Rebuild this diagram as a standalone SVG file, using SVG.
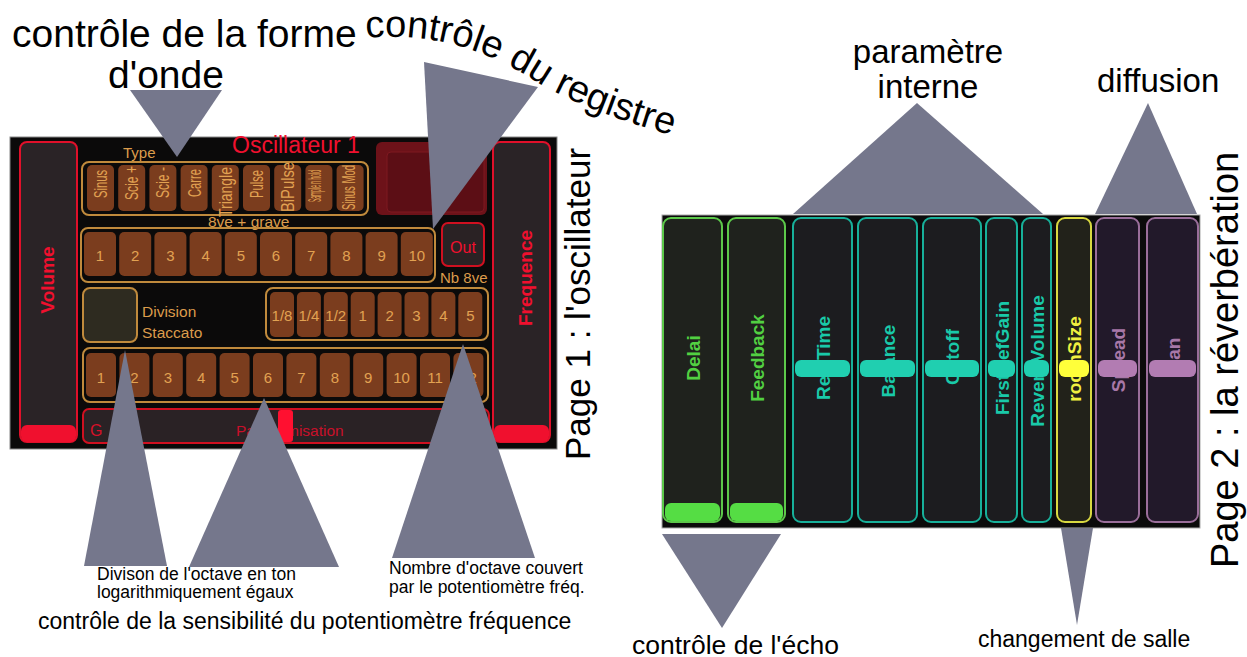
<svg xmlns="http://www.w3.org/2000/svg" width="1247" height="657" viewBox="0 0 1247 657">
<defs>
<style>
text{font-family:"Liberation Sans",Arial,sans-serif}
.blk{fill:#000}
.org{fill:#dc9c4c}
.obox{fill:none;stroke:#c08a3c;stroke-width:2}
.btn{fill:#7b3d1e}
.btxt{fill:#e2a252;font-size:15px;text-anchor:middle}
.vtxt{fill:#e2a252;font-size:19px;text-anchor:middle}
.red{fill:#f0102e}
.rs{fill:#2a2326;stroke:#e0102a;stroke-width:2}
.lab{font-size:19px;font-weight:bold;text-anchor:middle}
.call{fill:#75778c}
.g .sl{fill:#1f221d;stroke:#5cc84a;stroke-width:2}.g .kn{fill:#55dd44}.g text{fill:#52d042}
.t .sl{fill:#1c1c1f;stroke:#17b09a;stroke-width:2}.t .kn{fill:#20cfb0}.t text{fill:#19c9a9}
.y .sl{fill:#22221a;stroke:#d8d840;stroke-width:2}.y .kn{fill:#ffff3a}.y text{fill:#f0f040}
.p .sl{fill:#22192a;stroke:#9a6e9a;stroke-width:2}.p .kn{fill:#b27cb2}.p text{fill:#a878a8}
</style>
<path id="regPath" d="M 366 38 C 430 32, 485 48, 540 84 C 590 112, 640 126, 700 144" fill="none"/>
</defs>
<rect width="1247" height="657" fill="#fff"/>

<!-- Page 1 panel -->
<g id="page1">
<rect x="10" y="137" width="547" height="312" fill="#0b0a0a" stroke="#888" stroke-width="1"/>
<g id="volume">
<rect class="rs" x="20" y="142" width="57" height="300" rx="7"/>
<rect class="red" x="21" y="425" width="55" height="17" rx="6"/>
<text class="red lab" font-size="18" transform="translate(54,280) rotate(-90)">Volume</text>
</g>
<g id="frequence">
<rect class="rs" x="493" y="142" width="57" height="300" rx="7"/>
<rect class="red" x="494" y="425" width="55" height="17" rx="6"/>
<text class="red lab" transform="translate(532,278) rotate(-90)">Frequence</text>
</g>
<text id="title" class="red" x="232" y="153" font-size="23">Oscillateur 1</text>
<g id="type">
<text class="org" x="123" y="158" font-size="15">Type</text>
<rect class="obox" x="82" y="162" width="286" height="53" rx="7"/>
<rect class="btn" x="87" y="165" width="27" height="46" rx="5"/>
<rect class="btn" x="118.2" y="165" width="27" height="46" rx="5"/>
<rect class="btn" x="149.4" y="165" width="27" height="46" rx="5"/>
<rect class="btn" x="180.6" y="165" width="27" height="46" rx="5"/>
<rect class="btn" x="211.8" y="165" width="27" height="46" rx="5"/>
<rect class="btn" x="243" y="165" width="27" height="46" rx="5"/>
<rect class="btn" x="274.2" y="165" width="27" height="46" rx="5"/>
<rect class="btn" x="305.4" y="165" width="27" height="46" rx="5"/>
<rect class="btn" x="336.6" y="165" width="27" height="46" rx="5"/>
<text class="vtxt" transform="translate(107,184) rotate(-90)" textLength="28" lengthAdjust="spacingAndGlyphs">Sinus</text>
<text class="vtxt" transform="translate(138.2,183) rotate(-90)" textLength="34" lengthAdjust="spacingAndGlyphs">Scie +</text>
<text class="vtxt" transform="translate(169.4,182.5) rotate(-90)" textLength="31" lengthAdjust="spacingAndGlyphs">Scie -</text>
<text class="vtxt" transform="translate(200.6,183) rotate(-90)" textLength="28" lengthAdjust="spacingAndGlyphs">Carre</text>
<text class="vtxt" transform="translate(231.8,192) rotate(-90)" textLength="50" lengthAdjust="spacingAndGlyphs">Triangle</text>
<text class="vtxt" transform="translate(263,184) rotate(-90)" textLength="28" lengthAdjust="spacingAndGlyphs">Pulse</text>
<text class="vtxt" transform="translate(294.2,187) rotate(-90)" textLength="50" lengthAdjust="spacingAndGlyphs">BiPulse</text>
<text class="vtxt" font-size="7" transform="translate(321.4,186) rotate(-90)" textLength="32" lengthAdjust="spacingAndGlyphs">Sample n hold</text>
<text class="vtxt" font-size="13" transform="translate(354.6,187.5) rotate(-90)" textLength="45" lengthAdjust="spacingAndGlyphs">Sinus Mod</text>
</g>
<g id="display">
<rect x="376" y="142" width="111" height="73" rx="6" fill="#6d1219"/>
<rect x="387" y="152" width="97" height="60" rx="4" fill="#5c0e15" stroke="#7e1820" stroke-width="1"/>
</g>
<g id="octave">
<text class="org" x="208" y="227" font-size="15.5">8ve + grave</text>
<rect class="obox" x="81" y="228" width="354" height="54" rx="7"/>
<rect class="btn" x="84" y="232" width="32" height="44" rx="5"/>
<rect class="btn" x="119.2" y="232" width="32" height="44" rx="5"/>
<rect class="btn" x="154.4" y="232" width="32" height="44" rx="5"/>
<rect class="btn" x="189.6" y="232" width="32" height="44" rx="5"/>
<rect class="btn" x="224.8" y="232" width="32" height="44" rx="5"/>
<rect class="btn" x="260" y="232" width="32" height="44" rx="5"/>
<rect class="btn" x="295.2" y="232" width="32" height="44" rx="5"/>
<rect class="btn" x="330.4" y="232" width="32" height="44" rx="5"/>
<rect class="btn" x="365.6" y="232" width="32" height="44" rx="5"/>
<rect class="btn" x="400.8" y="232" width="32" height="44" rx="5"/>
<text class="btxt" x="100" y="261">1</text>
<text class="btxt" x="135.2" y="261">2</text>
<text class="btxt" x="170.4" y="261">3</text>
<text class="btxt" x="205.6" y="261">4</text>
<text class="btxt" x="240.8" y="261">5</text>
<text class="btxt" x="276" y="261">6</text>
<text class="btxt" x="311.2" y="261">7</text>
<text class="btxt" x="346.4" y="261">8</text>
<text class="btxt" x="381.6" y="261">9</text>
<text class="btxt" x="416.8" y="261">10</text>
</g>
<g id="out">
<rect x="442" y="223" width="42" height="43" rx="6" fill="#2a2224" stroke="#d01020" stroke-width="2"/>
<text class="red" x="463" y="253" font-size="16" text-anchor="middle">Out</text>
<text class="org" x="440" y="283" font-size="15">Nb 8ve</text>
</g>
<g id="division">
<rect x="83" y="288" width="54" height="54" rx="7" fill="#2e2b20" stroke="#c08a3c" stroke-width="2"/>
<text class="org" x="142" y="317" font-size="15.5">Division</text>
<text class="org" x="142" y="338" font-size="15.5">Staccato</text>
</g>
<g id="nboctave">
<rect class="obox" x="266" y="288" width="222" height="52" rx="7"/>
<rect class="btn" x="270" y="292" width="24" height="45" rx="5"/>
<rect class="btn" x="296.9" y="292" width="24" height="45" rx="5"/>
<rect class="btn" x="323.8" y="292" width="24" height="45" rx="5"/>
<rect class="btn" x="350.7" y="292" width="24" height="45" rx="5"/>
<rect class="btn" x="377.6" y="292" width="24" height="45" rx="5"/>
<rect class="btn" x="404.5" y="292" width="24" height="45" rx="5"/>
<rect class="btn" x="431.4" y="292" width="24" height="45" rx="5"/>
<rect class="btn" x="458.3" y="292" width="24" height="45" rx="5"/>
<text class="btxt" x="282" y="321">1/8</text>
<text class="btxt" x="308.9" y="321">1/4</text>
<text class="btxt" x="335.8" y="321">1/2</text>
<text class="btxt" x="362.7" y="321">1</text>
<text class="btxt" x="389.6" y="321">2</text>
<text class="btxt" x="416.5" y="321">3</text>
<text class="btxt" x="443.4" y="321">4</text>
<text class="btxt" x="470.3" y="321">5</text>
</g>
<g id="divisions">
<rect class="obox" x="83" y="348" width="405" height="54" rx="7"/>
<rect class="btn" x="86" y="353" width="30" height="44" rx="5"/>
<rect class="btn" x="119.4" y="353" width="30" height="44" rx="5"/>
<rect class="btn" x="152.8" y="353" width="30" height="44" rx="5"/>
<rect class="btn" x="186.2" y="353" width="30" height="44" rx="5"/>
<rect class="btn" x="219.6" y="353" width="30" height="44" rx="5"/>
<rect class="btn" x="253" y="353" width="30" height="44" rx="5"/>
<rect class="btn" x="286.4" y="353" width="30" height="44" rx="5"/>
<rect class="btn" x="319.8" y="353" width="30" height="44" rx="5"/>
<rect class="btn" x="353.2" y="353" width="30" height="44" rx="5"/>
<rect class="btn" x="386.6" y="353" width="30" height="44" rx="5"/>
<rect class="btn" x="420" y="353" width="30" height="44" rx="5"/>
<rect class="btn" x="453.4" y="353" width="30" height="44" rx="5"/>
<text class="btxt" x="101" y="383">1</text>
<text class="btxt" x="134.4" y="383">2</text>
<text class="btxt" x="167.8" y="383">3</text>
<text class="btxt" x="201.2" y="383">4</text>
<text class="btxt" x="234.6" y="383">5</text>
<text class="btxt" x="268" y="383">6</text>
<text class="btxt" x="301.4" y="383">7</text>
<text class="btxt" x="334.8" y="383">8</text>
<text class="btxt" x="368.2" y="383">9</text>
<text class="btxt" x="401.6" y="383">10</text>
<text class="btxt" x="435" y="383">11</text>
<text class="btxt" x="468.4" y="383">12</text>
</g>
<g id="panoramisation">
<rect x="83" y="409" width="406" height="34" rx="6" fill="#2a2225" stroke="#d01020" stroke-width="2"/>
<text x="90" y="436" font-size="16" fill="#d81028">G</text>
<text x="236" y="436" font-size="15.5" fill="#c8102a">Panoramisation</text>
<rect x="278" y="410" width="15" height="32" rx="3" fill="#ff1030"/>
</g>
</g>

<!-- Page 2 panel -->
<g id="page2">
<rect x="662" y="215" width="538" height="313" fill="#0b0b0b" stroke="#aaa" stroke-width="1"/>
<g id="delai" class="g">
<rect class="sl" x="663" y="218" width="59" height="304" rx="8"/>
<rect class="kn" x="665" y="503" width="55" height="18" rx="6"/>
<text class="lab" transform="translate(699.5,358) rotate(-90)">Delai</text>
</g>
<g id="feedback" class="g">
<rect class="sl" x="728" y="218" width="57" height="304" rx="8"/>
<rect class="kn" x="730" y="503" width="53" height="18" rx="6"/>
<text class="lab" transform="translate(763.5,358) rotate(-90)">Feedback</text>
</g>
<g id="revtime" class="t">
<rect class="sl" x="793" y="218" width="59" height="304" rx="8"/>
<text class="lab" transform="translate(829.5,358) rotate(-90)">Rev Time</text>
<rect class="kn" x="795" y="360" width="55" height="17" rx="6"/>
</g>
<g id="balance" class="t">
<rect class="sl" x="858" y="218" width="59" height="304" rx="8"/>
<text class="lab" transform="translate(894.5,361) rotate(-90)">Balance</text>
<rect class="kn" x="860" y="360" width="55" height="17" rx="6"/>
</g>
<g id="cutoff" class="t">
<rect class="sl" x="923" y="218" width="58" height="304" rx="8"/>
<text class="lab" transform="translate(959,357) rotate(-90)">Cutoff</text>
<rect class="kn" x="925" y="360" width="54" height="17" rx="6"/>
</g>
<g id="firstrefgain" class="t">
<rect class="sl" x="986" y="218" width="31" height="304" rx="8"/>
<text class="lab" transform="translate(1008.5,358) rotate(-90)">FirstRefGain</text>
<rect class="kn" x="988" y="360" width="27" height="17" rx="6"/>
</g>
<g id="reverbvolume" class="t">
<rect class="sl" x="1022" y="218" width="29" height="304" rx="8"/>
<text class="lab" transform="translate(1043.5,361) rotate(-90)">ReverbVolume</text>
<rect class="kn" x="1024" y="360" width="25" height="17" rx="6"/>
</g>
<g id="roomsize" class="y">
<rect class="sl" x="1057" y="218" width="34" height="304" rx="8"/>
<text class="lab" transform="translate(1081,359) rotate(-90)">roomSize</text>
<rect class="kn" x="1059" y="360" width="30" height="17" rx="6"/>
</g>
<g id="spread" class="p">
<rect class="sl" x="1096" y="218" width="43" height="304" rx="8"/>
<text class="lab" transform="translate(1124.5,360) rotate(-90)">Spread</text>
<rect class="kn" x="1098" y="360" width="39" height="17" rx="6"/>
</g>
<g id="pan" class="p">
<rect class="sl" x="1147" y="218" width="51" height="304" rx="8"/>
<text class="lab" transform="translate(1179.5,355) rotate(-90)">Pan</text>
<rect class="kn" x="1149" y="360" width="47" height="17" rx="6"/>
</g>
</g>

<!-- callout connectors -->
<g id="connectors">
<polygon class="call" points="130,90 222,90 177,157"/>
<polygon class="call" points="424,62 538,87 433,229"/>
<polygon class="call" points="125,350 84,566 167,566"/>
<polygon class="call" points="264,398 189,567 339,567"/>
<polygon class="call" points="463,344 392,558 535,558"/>
<polygon class="call" points="917,103 793,214 1043,214"/>
<polygon class="call" points="1148,103 1095,214 1197,214"/>
<polygon class="call" points="662,534 781,534 722,628"/>
<polygon class="call" points="1061,528 1093,528 1077,625"/>
</g>

<!-- labels -->
<g id="labels">
<text class="blk" x="12" y="47" font-size="39">contrôle de la forme</text>
<text class="blk" x="108" y="88" font-size="39">d'onde</text>
<text class="blk" font-size="38"><textPath href="#regPath">contrôle du registre</textPath></text>
<text class="blk" x="928" y="63" font-size="33" text-anchor="middle">paramètre</text>
<text class="blk" x="928" y="98" font-size="33" text-anchor="middle">interne</text>
<text class="blk" x="1097" y="92" font-size="33">diffusion</text>
<text class="blk" x="97" y="580" font-size="17.5">Divison de l'octave en ton</text>
<text class="blk" x="97" y="598" font-size="17.5">logarithmiquement égaux</text>
<text class="blk" x="389" y="574" font-size="17.5">Nombre d'octave couvert</text>
<text class="blk" x="389" y="593" font-size="17.5">par le potentiomètre fréq.</text>
<text class="blk" x="38" y="629" font-size="23">contrôle de la sensibilité du potentiomètre fréquence</text>
<text class="blk" x="632" y="654" font-size="26.5">contrôle de l'écho</text>
<text class="blk" x="978" y="647" font-size="23">changement de salle</text>
<text class="blk" font-size="35" transform="translate(590,460) rotate(-90)">Page 1 : l'oscillateur</text>
<text class="blk" font-size="38" transform="translate(1238,568) rotate(-90)">Page 2 : la réverbération</text>
</g>
</svg>
